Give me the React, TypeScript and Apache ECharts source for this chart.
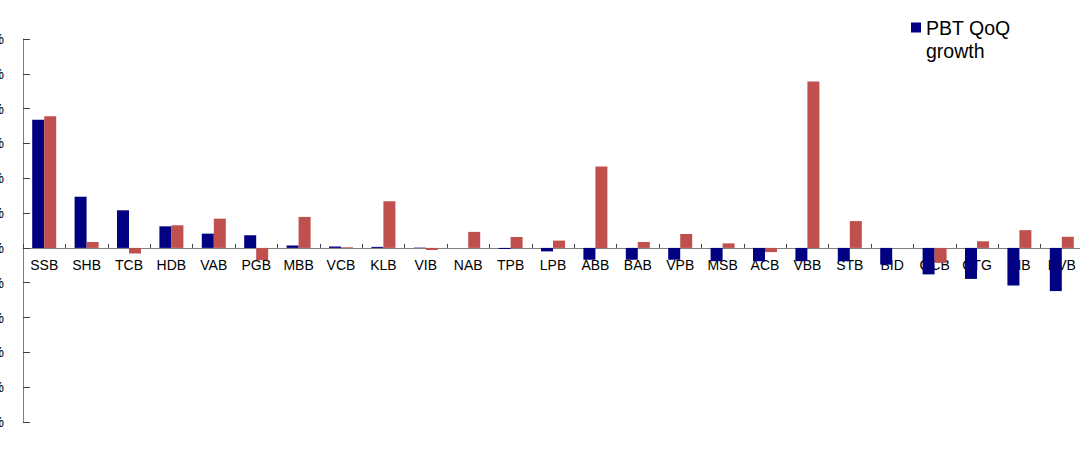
import React, { useEffect, useRef } from "react";
import * as echarts from "echarts";

const categories = ["SSB","SHB","TCB","HDB","VAB","PGB","MBB","VCB","KLB","VIB","NAB","TPB","LPB","ABB","BAB","VPB","MSB","ACB","VBB","STB","BID","OCB","CTG","EIB","BVB"];
const pbtQoQ = [368,147,108,62,41,36,7,4,3,1,0,-3,-10,-34,-34,-34,-38,-38,-38,-38,-48,-76,-89,-108,-124];
const secondSeries = [378,17,-16,65,84,-35,89,2,134,-6,46,31,21,234,17,40,13,-12,478,77,0,-43,19,51,32];
const yMin = -500;
const yMax = 600;
const yStep = 100;

const GRID_TOP = 39;
const GRID_H = 383;

export default function App() {
  const ref = useRef<HTMLDivElement>(null);
  useEffect(() => {
    if (!ref.current) return;
    const chart = echarts.init(ref.current, null, { renderer: "svg" });
    const font = "Liberation Sans, Arial, sans-serif";
    // distance from grid bottom up to the zero line, derived from the axis range
    const zeroOffset = -(GRID_H * (0 - yMin)) / (yMax - yMin);
    chart.setOption({
      animation: false,
      backgroundColor: "#ffffff",
      grid: { left: 23, top: GRID_TOP, width: 1060, height: GRID_H, containLabel: false, outerBoundsMode: "none" },
      legend: {
        data: ["PBT QoQ growth"],
        left: 911,
        top: 16,
        padding: 0,
        itemWidth: 10,
        itemHeight: 33,
        icon: "path://M0,0H10V10H0Z M0,33H0.01V33.01H0Z",
        formatter: () => "PBT QoQ\ngrowth",
        textStyle: { fontFamily: font, fontSize: 19.5, lineHeight: 23, color: "#000" },
      },
      xAxis: {
        type: "category",
        data: categories,
        offset: zeroOffset,
        axisLine: { onZero: false, lineStyle: { color: "#808080", width: 1 } },
        axisTick: { show: true, inside: true, length: 4, lineStyle: { color: "#404040" } },
        axisLabel: { fontFamily: font, fontSize: 14, color: "#000", margin: 10, interval: 0 },
      },
      yAxis: {
        type: "value",
        min: yMin,
        max: yMax,
        interval: yStep,
        splitLine: { show: false },
        axisLine: { show: true, onZero: false, lineStyle: { color: "#808080", width: 1 } },
        axisTick: { show: true, inside: true, length: 7, lineStyle: { color: "#404040" } },
        axisLabel: { fontFamily: font, fontSize: 14, color: "#000", margin: 19, formatter: "{value}%" },
      },
      series: [
        { name: "PBT QoQ growth", type: "bar", data: pbtQoQ, barWidth: 12, barGap: "0%", itemStyle: { color: "#000080" } },
        { name: "Other growth", type: "bar", data: secondSeries, barWidth: 12, barGap: "0%", itemStyle: { color: "#C0504D" } },
      ],
    });
    return () => chart.dispose();
  }, []);
  return <div ref={ref} style={{ position: "fixed", left: 0, top: 0, width: 1080, height: 474 }} />;
}
